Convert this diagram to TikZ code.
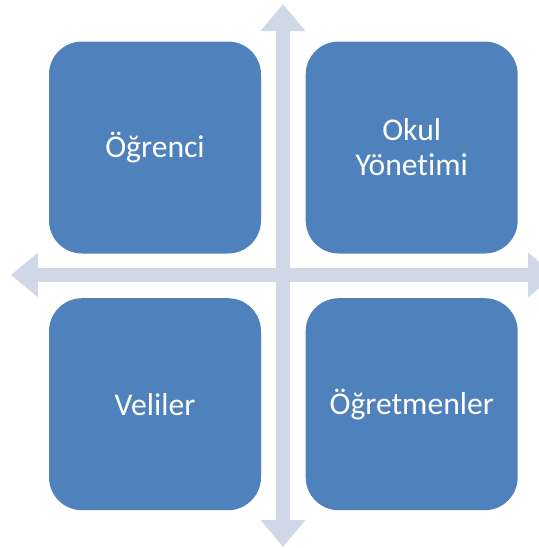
\documentclass[tikz,border=0pt]{standalone}
\usepackage{fontspec}
\setmainfont[Ligatures=NoCommon]{Carlito}
\usetikzlibrary{positioning,arrows.meta,backgrounds}
\definecolor{box}{HTML}{4F81BD}
\definecolor{axis}{HTML}{D0D8E8}

\begin{document}
\begin{tikzpicture}[
    group/.style = {rectangle, rounded corners=0.66cm, fill=box, text=white, minimum width=4.24cm, minimum height=4.24cm, inner sep=0pt, align=center, font=\fontsize{18}{20}\selectfont},
    axisarrow/.style = {draw=axis, line width=0.28cm, {Triangle[width=0.86cm, length=0.54cm]}-{Triangle[width=0.86cm, length=0.54cm]}},
]
    \useasboundingbox (0,0) rectangle (10.78,-10.96);

    % groups
    \node[group] (ogrenci) at (3.10,-2.95) {Öğrenci};
    \node[group, right=0.88cm of ogrenci] (yonetim) {Okul\\ Yönetimi};
    \node[group, below=0.88cm of ogrenci] (veliler) {Veliler};
    \node[group, below=0.88cm of yonetim] (ogretmen) {Öğretmenler};

    % axes
    \coordinate (top) at (5.66,-0.08);
    \coordinate (bottom) at (5.66,-10.94);
    \coordinate (left) at (0.22,-5.50);
    \coordinate (right) at (11.10,-5.50);
    \begin{scope}[on background layer]
        \draw[axisarrow] (top) -- (bottom);
        \draw[axisarrow] (left) -- (right);
    \end{scope}

\end{tikzpicture}
\end{document}
